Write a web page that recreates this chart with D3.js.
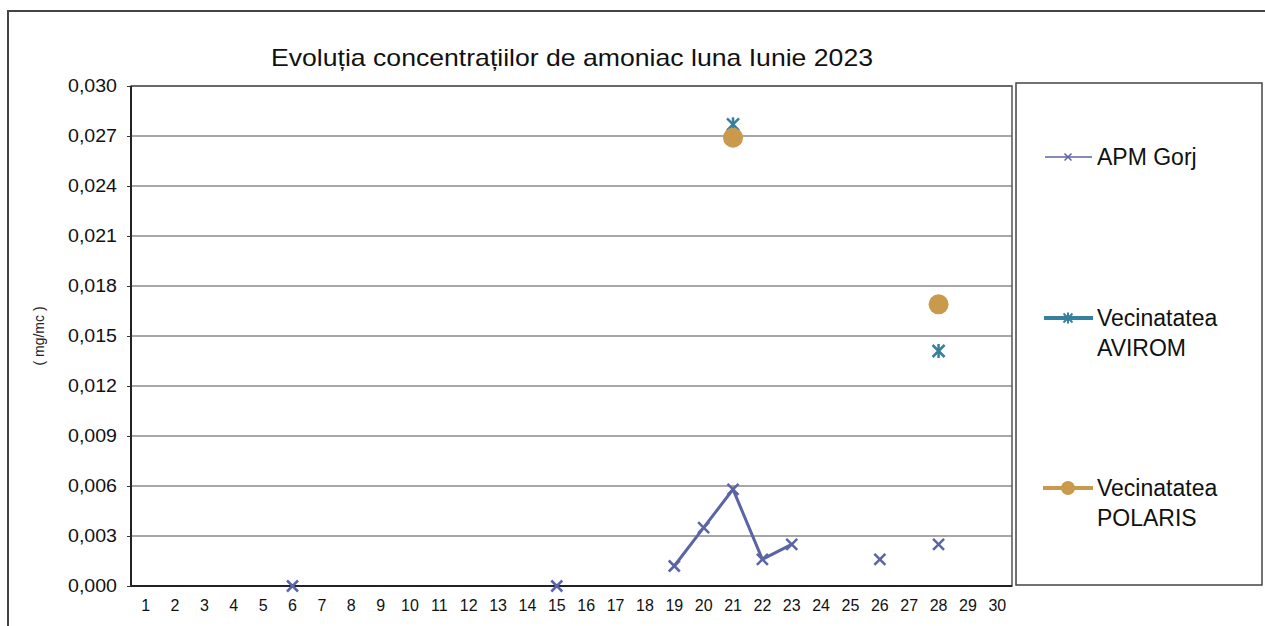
<!DOCTYPE html>
<html><head><meta charset="utf-8">
<script src="https://cdn.jsdelivr.net/npm/d3@7"></script>
<style>body{margin:0;background:#fff}svg{display:block;font-family:"Liberation Sans",Arial,sans-serif}</style>
</head><body><svg id="c" width="1265" height="626"></svg>
<script>
const days = d3.range(1, 31).map(String);
const yTicks = [0, 0.003, 0.006, 0.009, 0.012, 0.015, 0.018, 0.021, 0.024, 0.027, 0.030];
const seriesNames = ["APM Gorj", "Vecinatatea AVIROM", "Vecinatatea POLARIS"];
const colors = ["#5b64a6", "#357f9f", "#c99a4c"];
// values per day (null = no measurement)
const apmGorj = [null,null,null,null,null,0.0000,null,null,null,null,null,null,null,null,0.0000,null,null,null,0.0012,0.0035,0.0058,0.0016,0.0025,null,null,0.0016,null,0.0025,null,null];
const avirom  = [null,null,null,null,null,null,null,null,null,null,null,null,null,null,null,null,null,null,null,null,0.0277,null,null,null,null,null,null,0.0141,null,null];
const polaris = [null,null,null,null,null,null,null,null,null,null,null,null,null,null,null,null,null,null,null,null,0.0269,null,null,null,null,null,null,0.0169,null,null];

const svg = d3.select("#c");
const L = 131, R = 1012, T = 86, B = 586;
const x = d3.scaleBand().domain(days).range([L, R]);
const y = d3.scaleLinear().domain([0, 0.030]).range([B, T]);
const cx = d => x(d) + x.bandwidth() / 2;
const FF = "Liberation Sans, Arial, sans-serif";

// outer frame
svg.append("rect").attr("x", 8).attr("y", 11).attr("width", 1270).attr("height", 630)
  .attr("fill", "none").attr("stroke", "#444").attr("stroke-width", 2);

// title
svg.append("text").attr("x", 572).attr("y", 66).attr("text-anchor", "middle")
  .attr("font-size", 24).attr("textLength", 602).attr("lengthAdjust", "spacingAndGlyphs")
  .attr("fill", "#111").text("Evoluția concentrațiilor de amoniac luna Iunie 2023");

// gridlines
svg.append("g").selectAll("line").data(yTicks).join("line")
  .attr("x1", L).attr("x2", R).attr("y1", d => y(d)).attr("y2", d => y(d))
  .attr("stroke", "#8a8a8a").attr("stroke-width", 1.5);

// plot border
svg.append("rect").attr("x", L).attr("y", T).attr("width", R - L).attr("height", B - T)
  .attr("fill", "none").attr("stroke", "#555").attr("stroke-width", 1.5);
svg.append("line").attr("x1", L).attr("x2", L).attr("y1", T).attr("y2", B).attr("stroke", "#222").attr("stroke-width", 2);
svg.append("line").attr("x1", L).attr("x2", R).attr("y1", B).attr("y2", B).attr("stroke", "#222").attr("stroke-width", 2);

// y axis
const fmt = d => d3.format(".3f")(d).replace(".", ",");
const ya = svg.append("g").attr("transform", `translate(${L},0)`)
  .call(d3.axisLeft(y).tickValues(yTicks).tickFormat(fmt).tickSize(4).tickPadding(10));
ya.select(".domain").remove();
ya.selectAll(".tick line").attr("stroke", "#333");
ya.selectAll("text").attr("font-size", 18).attr("fill", "#111").attr("font-family", FF)
  .attr("textLength", 49).attr("lengthAdjust", "spacingAndGlyphs");

// x axis
const xa = svg.append("g").attr("transform", `translate(0,${B})`)
  .call(d3.axisBottom(x).tickSize(0).tickPadding(14));
xa.select(".domain").remove();
xa.selectAll("text").attr("font-size", 16).attr("fill", "#111").attr("font-family", FF);

// y title
svg.append("text").attr("transform", "translate(44,336) rotate(-90)").attr("text-anchor", "middle")
  .attr("font-size", 14).attr("fill", "#222").text("( mg/mc )");

// series
const seriesData = [apmGorj, avirom, polaris].map(arr => days.map((d, i) => ({day: d, v: arr[i]})));
const line = d3.line().defined(d => d.v !== null).x(d => cx(d.day)).y(d => y(d.v));

svg.append("path").datum(seriesData[0]).attr("d", line).attr("fill", "none")
  .attr("stroke", colors[0]).attr("stroke-width", 3);

function cross(g, px, py, s, col, w) {
  g.append("line").attr("x1", px - s).attr("y1", py - s).attr("x2", px + s).attr("y2", py + s).attr("stroke", col).attr("stroke-width", w);
  g.append("line").attr("x1", px - s).attr("y1", py + s).attr("x2", px + s).attr("y2", py - s).attr("stroke", col).attr("stroke-width", w);
}
function star(g, px, py, s, col, w) {
  cross(g, px, py, s, col, w);
  g.append("line").attr("x1", px).attr("y1", py - s - 1).attr("x2", px).attr("y2", py + s + 1).attr("stroke", col).attr("stroke-width", w);
}
const mg = svg.append("g");
seriesData[0].filter(d => d.v !== null).forEach(d => cross(mg, cx(d.day), y(d.v), 5.5, colors[0], 2.5));
seriesData[1].filter(d => d.v !== null).forEach(d => star(mg, cx(d.day), y(d.v), 6, colors[1], 2.5));
seriesData[2].filter(d => d.v !== null).forEach(d => mg.append("circle").attr("cx", cx(d.day)).attr("cy", y(d.v)).attr("r", 10).attr("fill", colors[2]));

// legend
svg.append("rect").attr("x", 1016).attr("y", 83).attr("width", 246).attr("height", 502)
  .attr("fill", "#fff").attr("stroke", "#444").attr("stroke-width", 1.5);
const lg = svg.append("g");
const ly = [157, 318, 488];
// APM Gorj
lg.append("line").attr("x1", 1045).attr("x2", 1092).attr("y1", ly[0]).attr("y2", ly[0]).attr("stroke", colors[0]).attr("stroke-width", 1.5);
cross(lg, 1068, ly[0], 3.5, colors[0], 1.5);
// AVIROM
lg.append("line").attr("x1", 1044).attr("x2", 1093).attr("y1", ly[1]).attr("y2", ly[1]).attr("stroke", colors[1]).attr("stroke-width", 4);
star(lg, 1068, ly[1], 4.5, colors[1], 2);
// POLARIS
lg.append("line").attr("x1", 1043).attr("x2", 1093).attr("y1", ly[2]).attr("y2", ly[2]).attr("stroke", colors[2]).attr("stroke-width", 4);
lg.append("circle").attr("cx", 1068).attr("cy", ly[2]).attr("r", 7).attr("fill", colors[2]);

const legLines = [["APM Gorj"], ["Vecinatatea", "AVIROM"], ["Vecinatatea", "POLARIS"]];
legLines.forEach((ls, i) => {
  const t = lg.append("text").attr("x", 1097).attr("y", ly[i] + 8).attr("font-size", 23).attr("fill", "#111");
  ls.forEach((s, j) => t.append("tspan").attr("x", 1097).attr("dy", j ? 30 : 0).text(s));
});
</script></body></html>
